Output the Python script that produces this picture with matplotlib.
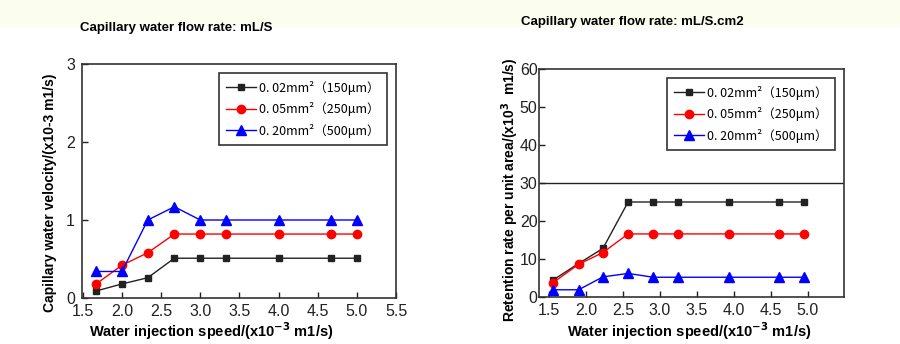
import matplotlib
matplotlib.use("Agg")
import matplotlib.pyplot as plt
from matplotlib.patches import Rectangle

# left chart: capillary water velocity
x_left = [1.67, 2.0, 2.33, 2.67, 3.0, 3.33, 4.0, 4.67, 5.0]
vel_002 = [0.09, 0.18, 0.26, 0.51, 0.51, 0.51, 0.51, 0.51, 0.51]
vel_005 = [0.18, 0.42, 0.58, 0.82, 0.82, 0.82, 0.82, 0.82, 0.82]
vel_020 = [0.34, 0.34, 1.0, 1.17, 1.0, 1.0, 1.0, 1.0, 1.0]

# right chart: retention rate per unit area
x_right = [1.55, 1.9, 2.23, 2.57, 2.91, 3.24, 3.93, 4.61, 4.95]
ret_002 = [4.4, 8.8, 12.8, 25.0, 25.0, 25.0, 25.0, 25.0, 25.0]
ret_005 = [3.7, 8.6, 11.7, 16.6, 16.6, 16.6, 16.6, 16.6, 16.6]
ret_020 = [1.9, 1.9, 5.3, 6.2, 5.2, 5.2, 5.2, 5.2, 5.2]

labels = ["0. 02mm²（150μm）", "0. 05mm²（250μm）", "0. 20mm²（500μm）"]
x_ticks = [1.5, 2.0, 2.5, 3.0, 3.5, 4.0, 4.5, 5.0, 5.5]

bold_font = ["Liberation Sans", "DejaVu Sans"]
tick_font = ["Liberation Sans", "DejaVu Sans"]
leg_font = ["Noto Sans CJK SC", "DejaVu Sans"]

fig = plt.figure(figsize=(9, 3.44), dpi=100)
fig.patches.append(Rectangle((0, 1 - 27 / 344), 1, 27 / 344, transform=fig.transFigure,
                             facecolor="#fbfdee", edgecolor="none", zorder=0))

ax1 = fig.add_axes([82 / 900, 1 - 298 / 344, 314 / 900, 234 / 344])
ax2 = fig.add_axes([539 / 900, 1 - 297 / 344, 305 / 900, 228 / 344])


def draw(ax, x, s1, s2, s3):
    ax.plot(x, s1, color="#222222", lw=1, marker="s", ms=5, label=labels[0])
    ax.plot(x, s2, color="red", lw=1, marker="o", ms=6, label=labels[1])
    ax.plot(x, s3, color="blue", lw=1, marker="^", ms=6.5, label=labels[2])
    ax.set_xticks(x_ticks)
    ax.set_xticklabels(["%.1f" % t for t in x_ticks])
    ax.tick_params(direction="in", length=4, width=1, labelsize=11.5, colors="#222222")
    ax.tick_params(axis="x", pad=4)
    for lab in ax.get_xticklabels() + ax.get_yticklabels():
        lab.set_family(tick_font)
    for sp in ax.spines.values():
        sp.set_color("#333333")
        sp.set_linewidth(1.2)
    leg = ax.legend(loc="upper right", fancybox=False, edgecolor="#333333", framealpha=1,
                    handlelength=2.4, handletextpad=0.2, labelspacing=0.6,
                    borderpad=0.6, borderaxespad=0, prop={"family": leg_font, "size": 9},
                    bbox_to_anchor=(0.97, 0.96))
    leg.get_frame().set_linewidth(1.2)


draw(ax1, x_left, vel_002, vel_005, vel_020)
ax1.tick_params(axis="y", pad=5)
ax1.set_xlim(1.49, 5.5)
ax1.set_ylim(0, 3)
ax1.set_yticks([0, 1, 2, 3])
ax1.set_xlabel("Water injection speed/(x10$^{\\mathbf{-3}}$ m1/s)", family=bold_font,
               fontweight="bold", fontsize=10.5)
ax1.xaxis.set_label_coords((211 - 82) / 314, -(320 - 298) / 234)
ax1.set_ylabel("Capillary water velocity/(x10-3 m1/s)", family=bold_font,
               fontweight="bold", fontsize=10)
ax1.yaxis.set_label_coords(-(82 - 57) / 314, 0.45)
fig.text(176 / 900, 1 - 28 / 344, "Capillary water flow rate: mL/S", family=bold_font,
         fontweight="bold", fontsize=9.5, ha="center", va="center")

draw(ax2, x_right, ret_002, ret_005, ret_020)
ax2.tick_params(axis="y", pad=1)
ax2.axhline(30, color="#222222", lw=1)
ax2.set_xlim(1.365, 5.49)
ax2.set_ylim(0, 60)
ax2.set_yticks(range(0, 61, 10))
ax2.set_xlabel("Water injection speed/(x10$^{\\mathbf{-3}}$ m1/s)", family=bold_font,
               fontweight="bold", fontsize=10.5)
ax2.xaxis.set_label_coords((689 - 539) / 305, -(320 - 297) / 228)
ax2.set_ylabel("Retention rate per unit area/(x10$^{\\mathbf{3}}$  m1/s)", family=bold_font,
               fontweight="bold", fontsize=10)
ax2.yaxis.set_label_coords(-(539 - 521) / 305, 0.47)
fig.text(632 / 900, 1 - 22 / 344, "Capillary water flow rate: mL/S.cm2", family=bold_font,
         fontweight="bold", fontsize=9.5, ha="center", va="center")

fig.savefig("out.png", dpi=100)
